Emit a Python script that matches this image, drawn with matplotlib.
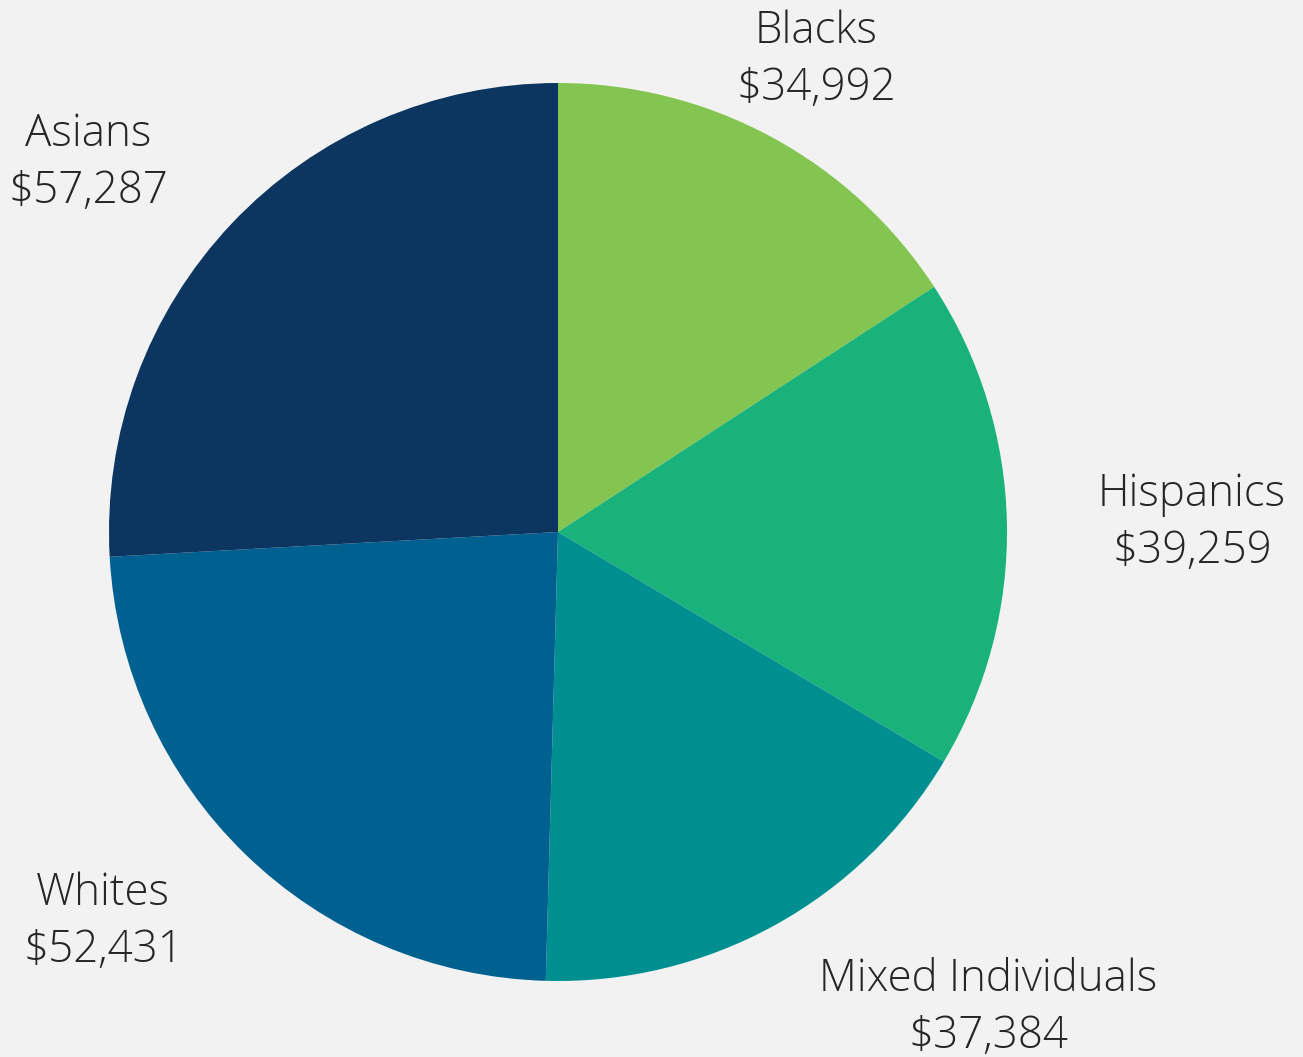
import matplotlib

matplotlib.use("Agg")
import matplotlib.pyplot as plt

# median household income by group (clockwise from 12 o'clock)
groups = ["Blacks", "Hispanics", "Mixed Individuals", "Whites", "Asians"]
incomes = [34992, 39259, 37384, 52431, 57287]
colors = ["#84c450", "#19b27a", "#008f91", "#00608f", "#0c3660"]
# label anchor points in image pixels (x, y from top)
label_xy = [(816, 60), (1192, 523), (988, 1008), (103, 922), (88, 163)]

W, H = 1303, 1057
BG = "#f2f2f2"

fig = plt.figure(figsize=(W / 100, H / 100), dpi=100, facecolor=BG)
ax = fig.add_axes([0, 0, 1, 1])
ax.set_facecolor(BG)

ax.pie(incomes, colors=colors, startangle=90, counterclock=False,
       center=(558, H - 532), radius=449, frame=True,
       wedgeprops={"linewidth": 0, "antialiased": True})
ax.set_xlim(0, W)
ax.set_ylim(0, H)
ax.set_aspect("equal")
ax.axis("off")

for name, val, (x, y) in zip(groups, incomes, label_xy):
    ax.text(x, H - y, f"{name}\n${val:,}", ha="center", va="center",
            fontsize=31.6, family="Open Sans", fontweight="light",
            color="#262626", linespacing=1.36)

fig.savefig("out.png", dpi=100, facecolor=BG)
